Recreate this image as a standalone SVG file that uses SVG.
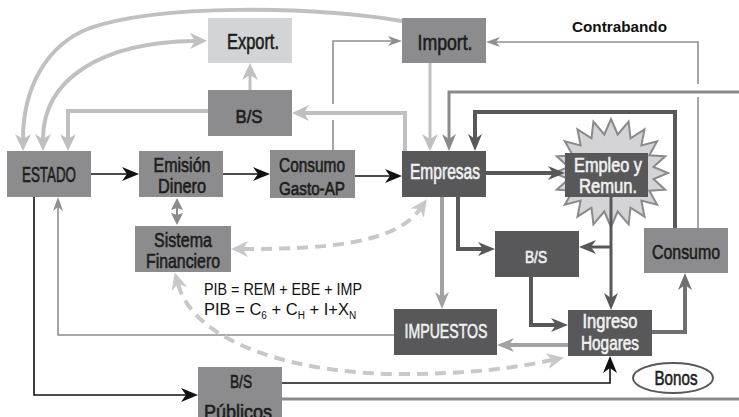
<svg xmlns="http://www.w3.org/2000/svg" width="739" height="417" viewBox="0 0 739 417">
  <style>
    .mid { fill: #8c8c8e; }
    .dark { fill: #58585a; }
    .light { fill: #d3d4d6; }
    .lbl { font-family: "Liberation Sans Narrow", "Liberation Sans", Arial, sans-serif; text-anchor: middle; }
    .ink { fill: #1c1c1c; stroke: #1c1c1c; stroke-width: 0.6; }
    .paper { fill: #f2f2f2; stroke: #f2f2f2; stroke-width: 0.6; }
    .note { font-family: "Liberation Sans Narrow", "Liberation Sans", Arial, sans-serif; fill: #111111; }
    .c { fill: none; stroke-linejoin: miter; }
    .k-black { stroke: #111111; stroke-width: 1.6; }
    .k-dark { stroke: #58585a; stroke-width: 4; }
    .k-dark3 { stroke: #58585a; stroke-width: 3; }
    .k-mid { stroke: #8a8a8c; stroke-width: 3; }
    .k-thin { stroke: #8f8f91; stroke-width: 1.6; }
    .k-light { stroke: #c0c0c2; stroke-width: 4; }
    .k-light3 { stroke: #c0c0c2; stroke-width: 3; }
    .k-gray { stroke: #a2a2a4; stroke-width: 4; }
    .k-slate { stroke: #707072; stroke-width: 4; }
    .k-dash { stroke: #c8c8ca; stroke-width: 4; stroke-dasharray: 11 7; }
  </style>
  <defs>
    <marker id="ah-black" markerUnits="userSpaceOnUse" viewBox="0 0 17 14" markerWidth="17" markerHeight="14" refX="5" refY="7" orient="auto-start-reverse">
      <path d="M0,0 L17,7 L0,14 L5,7 Z" fill="#111111"/>
    </marker>
    <marker id="ah-dark" markerUnits="userSpaceOnUse" viewBox="0 0 17 14" markerWidth="17" markerHeight="14" refX="5" refY="7" orient="auto-start-reverse">
      <path d="M0,0 L17,7 L0,14 L5,7 Z" fill="#58585a"/>
    </marker>
    <marker id="ah-mid" markerUnits="userSpaceOnUse" viewBox="0 0 17 14" markerWidth="17" markerHeight="14" refX="5" refY="7" orient="auto-start-reverse">
      <path d="M0,0 L17,7 L0,14 L5,7 Z" fill="#8a8a8c"/>
    </marker>
    <marker id="ah-light" markerUnits="userSpaceOnUse" viewBox="0 0 17 16" markerWidth="17" markerHeight="16" refX="5" refY="8" orient="auto-start-reverse">
      <path d="M0,0 L17,8 L0,16 L5,8 Z" fill="#c0c0c2"/>
    </marker>
    <marker id="ah-gray" markerUnits="userSpaceOnUse" viewBox="0 0 17 14" markerWidth="17" markerHeight="14" refX="5" refY="7" orient="auto-start-reverse">
      <path d="M0,0 L17,7 L0,14 L5,7 Z" fill="#a2a2a4"/>
    </marker>
    <marker id="ah-slate" markerUnits="userSpaceOnUse" viewBox="0 0 17 14" markerWidth="17" markerHeight="14" refX="5" refY="7" orient="auto-start-reverse">
      <path d="M0,0 L17,7 L0,14 L5,7 Z" fill="#707072"/>
    </marker>
    <marker id="ah-dash" markerUnits="userSpaceOnUse" viewBox="0 0 17 16" markerWidth="17" markerHeight="16" refX="5" refY="8" orient="auto-start-reverse">
      <path d="M0,0 L17,8 L0,16 L5,8 Z" fill="#c8c8ca"/>
    </marker>
    <marker id="ah-thin" markerUnits="userSpaceOnUse" viewBox="0 0 14 10" markerWidth="14" markerHeight="10" refX="4" refY="5" orient="auto">
      <path d="M0,0 L14,5 L0,10 L4,5 Z" fill="#8f8f91"/>
    </marker>
  </defs>

  <rect width="739" height="417" fill="#ffffff"/>

  <!-- nodes -->
  <g id="estado">
    <rect class="mid" x="7" y="151" width="84" height="46"/>
    <text class="lbl ink" x="49" y="182" font-size="22" textLength="54" lengthAdjust="spacingAndGlyphs">ESTADO</text>
  </g>
  <g id="emision">
    <rect class="mid" x="139" y="151" width="84" height="46"/>
    <text class="lbl ink" x="182" y="172" font-size="20" textLength="57" lengthAdjust="spacingAndGlyphs">Emisión</text>
    <text class="lbl ink" x="182" y="193" font-size="20" textLength="48" lengthAdjust="spacingAndGlyphs">Dinero</text>
  </g>
  <g id="sistema-financiero">
    <rect class="mid" x="135" y="226" width="96" height="46"/>
    <text class="lbl ink" x="183" y="247" font-size="20" textLength="58" lengthAdjust="spacingAndGlyphs">Sistema</text>
    <text class="lbl ink" x="183" y="268" font-size="20" textLength="74" lengthAdjust="spacingAndGlyphs">Financiero</text>
  </g>
  <g id="consumo-gasto">
    <rect class="mid" x="270" y="150" width="85" height="48"/>
    <text class="lbl ink" x="312" y="172" font-size="20" textLength="66" lengthAdjust="spacingAndGlyphs">Consumo</text>
    <text class="lbl ink" x="312" y="195" font-size="19" textLength="66" lengthAdjust="spacingAndGlyphs">Gasto-AP</text>
  </g>
  <g id="bs-externo">
    <rect class="mid" x="208" y="90" width="84" height="46"/>
    <text class="lbl ink" x="249" y="123" font-size="18" textLength="27" lengthAdjust="spacingAndGlyphs">B/S</text>
  </g>
  <g id="export">
    <rect class="light" x="208" y="18" width="84" height="45"/>
    <text class="lbl ink" x="253" y="49" font-size="22" textLength="52" lengthAdjust="spacingAndGlyphs">Export.</text>
  </g>
  <g id="import">
    <rect class="mid" x="402" y="18" width="84" height="45"/>
    <text class="lbl ink" x="445" y="50" font-size="22" textLength="55" lengthAdjust="spacingAndGlyphs">Import.</text>
  </g>
  <g id="empresas">
    <rect class="dark" x="402" y="151" width="84" height="46"/>
    <text class="lbl paper" x="445" y="179" font-size="22" textLength="70" lengthAdjust="spacingAndGlyphs">Empresas</text>
  </g>
  <g id="empleo">
    <polygon fill="#d4d4d6" stroke="#8a8a8c" stroke-width="2" points="611,119 617.7,134.5 628.6,121.6 630.5,138.3 644.5,129.3 641.4,145.4 657.1,141.3 649.3,155.3 665.2,156.3 653.5,166.9 668,173 653.5,179.1 665.2,189.7 649.3,190.7 657.1,204.7 641.4,200.6 644.5,216.7 630.5,207.7 628.6,224.4 617.7,211.5 611,227 604.3,211.5 593.4,224.4 591.5,207.7 577.5,216.7 580.6,200.6 564.9,204.7 572.7,190.7 556.8,189.7 568.5,179.1 554,173 568.5,166.9 556.8,156.3 572.7,155.3 564.9,141.3 580.6,145.4 577.5,129.3 591.5,138.3 593.4,121.6 604.3,134.5"/>
    <rect class="dark" x="565" y="153" width="83" height="44"/>
    <text class="lbl paper" x="608" y="172" font-size="20" textLength="68" lengthAdjust="spacingAndGlyphs">Empleo y</text>
    <text class="lbl paper" x="608" y="193" font-size="20" textLength="58" lengthAdjust="spacingAndGlyphs">Remun.</text>
  </g>
  <g id="bs-hogares">
    <rect class="dark" x="495" y="231" width="84" height="46"/>
    <text class="lbl paper" x="536" y="263" font-size="17" textLength="22" lengthAdjust="spacingAndGlyphs">B/S</text>
  </g>
  <g id="consumo">
    <rect class="mid" x="644" y="228" width="84" height="45"/>
    <text class="lbl ink" x="686" y="259" font-size="21" textLength="68" lengthAdjust="spacingAndGlyphs">Consumo</text>
  </g>
  <g id="impuestos">
    <rect class="dark" x="394" y="309" width="103" height="46"/>
    <text class="lbl paper" x="446" y="338" font-size="21" textLength="83" lengthAdjust="spacingAndGlyphs">IMPUESTOS</text>
  </g>
  <g id="ingreso-hogares">
    <rect class="dark" x="568" y="310" width="84" height="46"/>
    <text class="lbl paper" x="610" y="328" font-size="20" textLength="55" lengthAdjust="spacingAndGlyphs">Ingreso</text>
    <text class="lbl paper" x="610" y="350" font-size="20" textLength="58" lengthAdjust="spacingAndGlyphs">Hogares</text>
  </g>
  <g id="bs-publicos">
    <rect class="mid" x="198" y="367" width="84" height="55"/>
    <text class="lbl ink" x="241" y="388" font-size="18" textLength="22" lengthAdjust="spacingAndGlyphs">B/S</text>
    <text class="lbl ink" x="238" y="419" font-size="20" textLength="68" lengthAdjust="spacingAndGlyphs">Públicos</text>
  </g>
  <g id="bonos">
    <ellipse cx="673" cy="378" rx="40" ry="15" fill="#ffffff" stroke="#58585a" stroke-width="2"/>
    <text class="lbl ink" x="676" y="385" font-size="21" textLength="43" lengthAdjust="spacingAndGlyphs">Bonos</text>
  </g>

  <!-- free labels -->
  <g id="labels">
    <text class="note" x="572" y="32" font-weight="bold" font-size="15" textLength="95" lengthAdjust="spacingAndGlyphs">Contrabando</text>
    <text class="note" x="204" y="295" font-size="17" textLength="158" lengthAdjust="spacingAndGlyphs">PIB = REM + EBE + IMP</text>
    <text class="note" x="204" y="315" font-size="16.5">PIB = C<tspan font-size="10" dy="4">6</tspan><tspan dy="-4"> + C</tspan><tspan font-size="10" dy="4">H</tspan><tspan dy="-4"> + I+X</tspan><tspan font-size="10" dy="4">N</tspan></text>
  </g>

  <!-- connectors -->
  <g id="connectors">
    <!-- main money flow -->
    <path class="c k-black" d="M91,174 H127" marker-end="url(#ah-black)"/>
    <path class="c k-black" d="M223,174 H258" marker-end="url(#ah-black)"/>
    <path class="c k-black" d="M355,176 H390" marker-end="url(#ah-black)"/>
    <!-- Emisión <-> Sistema Financiero -->
    <path d="M177,198 L183,210 L177,208 L171,210 Z M177,225 L183,213 L177,215 L171,213 Z" fill="#8a8a8c"/>
    <path class="c" d="M177,207 V216" stroke="#8a8a8c" stroke-width="2"/>

    <!-- Estado to public goods, public goods onward -->
    <path class="c k-black" d="M34,197 V395 H186" marker-end="url(#ah-black)"/>
    <path class="c k-black" d="M282,383 H610 V368" marker-end="url(#ah-black)"/>
    <path class="c k-mid" d="M282,399 H739"/>

    <!-- taxes back to the state -->
    <path class="c k-thin" d="M394,335 H58 V207" marker-end="url(#ah-thin)"/>

    <!-- external sector arcs -->
    <path class="c k-light" d="M402,21 C310,6 160,4 90,28 C45,45 23,90 23,139" marker-end="url(#ah-light)"/>
    <path class="c k-light" d="M43,139 C43,80 100,42 195,41" marker-start="url(#ah-light)" marker-end="url(#ah-light)"/>
    <path class="c k-light3" d="M250,90 V75" marker-end="url(#ah-light)"/>
    <path class="c k-light" d="M208,111 H68 V139" marker-end="url(#ah-light)"/>
    <path class="c k-light" d="M405,151 V113 H304" marker-end="url(#ah-light)"/>
    <path class="c k-thin" d="M333,150 V120 M333,104 V41 H392" marker-end="url(#ah-thin)"/>
    <path class="c k-light3" d="M430,63 V139" marker-end="url(#ah-light)"/>
    <path class="c k-thin" d="M698,228 V97 M698,84 V42 H496" marker-end="url(#ah-thin)"/>

    <!-- flows into firms -->
    <path class="c k-mid" d="M739,92 H449 V139" marker-end="url(#ah-mid)"/>
    <path class="c k-dark" d="M675,228 V112 H475 V139" marker-end="url(#ah-dark)"/>

    <!-- firms, employment, households -->
    <path class="c k-dark" d="M486,173 H553" marker-end="url(#ah-dark)"/>
    <path class="c k-dark3" d="M611,197 V298" marker-end="url(#ah-dark)"/>
    <path class="c k-dark3" d="M611,247 H591" marker-end="url(#ah-dark)"/>
    <path class="c k-dark" d="M458,197 V249 H483" marker-end="url(#ah-dark)"/>
    <path class="c k-gray" d="M442,197 V297" marker-end="url(#ah-gray)"/>
    <path class="c k-dark" d="M531,277 V325 H556" marker-end="url(#ah-dark)"/>
    <path class="c k-gray" d="M568,345 H509" marker-end="url(#ah-gray)"/>
    <path class="c k-slate" d="M652,332 H685 V285" marker-end="url(#ah-slate)"/>

    <!-- financial system links -->
    <path class="c k-dash" d="M243,249 C320,249 395,245 420,209" marker-start="url(#ah-dash)" marker-end="url(#ah-dash)"/>
    <path class="c k-dash" d="M178,284 C195,345 300,374 400,374 C470,374 515,368 552,360" marker-start="url(#ah-dash)" marker-end="url(#ah-dash)"/>
  </g>
</svg>
